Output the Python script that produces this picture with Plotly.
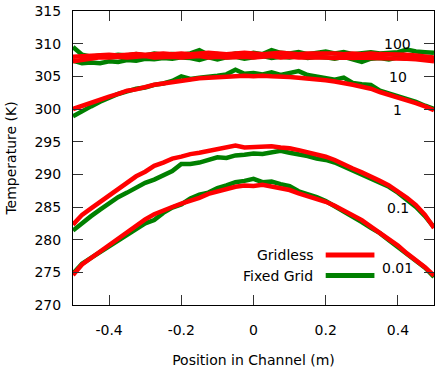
import plotly.graph_objects as go

x = [-0.5, -0.475, -0.45, -0.425, -0.4, -0.375, -0.35, -0.325, -0.3, -0.275, -0.25,
     -0.225, -0.2, -0.175, -0.15, -0.125, -0.1, -0.075, -0.05, -0.025, 0.0,
     0.025, 0.05, 0.075, 0.1, 0.125, 0.15, 0.175, 0.2, 0.225, 0.25,
     0.275, 0.3, 0.325, 0.35, 0.375, 0.4, 0.425, 0.45, 0.475, 0.5]

gridless_100 = [308.0, 308.1, 308.2, 308.2, 308.3, 308.2, 308.3, 308.4, 308.3, 308.4, 308.5,
                308.4, 308.5, 308.4, 308.5, 308.6, 308.5, 308.4, 308.5, 308.6, 308.5,
                308.4, 308.5, 308.6, 308.5, 308.4, 308.5, 308.5, 308.6, 308.5, 308.4,
                308.5, 308.4, 308.5, 308.4, 308.4, 308.3, 308.3, 308.2, 308.1, 307.9]
gridless_10 = [307.3, 307.5, 307.7, 307.9, 307.9, 308.0, 307.9, 308.0, 308.1, 307.9, 308.0,
               308.0, 307.9, 308.0, 308.1, 307.9, 308.0, 307.9, 308.0, 308.0, 307.9,
               308.0, 308.1, 307.9, 308.0, 307.9, 307.9, 308.0, 307.9, 307.8, 307.9,
               307.8, 307.9, 307.8, 307.8, 307.7, 307.8, 307.7, 307.6, 307.5, 307.3]
gridless_1 = [300.0, 300.5, 301.0, 301.5, 301.9, 302.3, 302.8, 303.0, 303.4, 303.7, 303.9,
              304.1, 304.4, 304.6, 304.7, 304.8, 304.9, 305.0, 305.0, 305.1, 305.0,
              305.1, 305.0, 305.0, 304.9, 304.8, 304.7, 304.6, 304.4, 304.2, 304.0,
              303.7, 303.4, 303.1, 302.6, 302.2, 301.8, 301.4, 300.9, 300.4, 299.8]
gridless_01 = [282.3, 283.8, 284.8, 285.8, 286.7, 287.8, 288.7, 289.7, 290.4, 291.3, 291.8,
               292.4, 292.7, 293.1, 293.3, 293.6, 293.9, 294.1, 294.4, 294.1, 294.2,
               294.3, 294.3, 294.1, 294.0, 293.7, 293.4, 293.0, 292.7, 292.2, 291.5,
               290.9, 290.3, 289.7, 289.0, 288.3, 287.4, 286.4, 285.3, 283.8, 281.8]
gridless_001 = [274.6, 276.2, 277.2, 278.2, 279.2, 280.1, 281.2, 282.2, 283.1, 283.9, 284.5,
                285.0, 285.5, 285.9, 286.4, 287.0, 287.4, 287.8, 288.1, 288.3, 288.2,
                288.4, 288.1, 287.9, 287.6, 287.1, 286.7, 286.3, 285.8, 285.2, 284.5,
                283.8, 283.0, 282.0, 281.1, 280.1, 279.1, 277.9, 276.9, 275.8, 274.5]

fixed_100 = [309.5, 308.3, 308.0, 308.2, 308.1, 308.3, 308.2, 308.4, 308.2, 308.5, 308.3,
             308.4, 308.3, 308.5, 309.0, 308.3, 308.4, 308.2, 308.5, 308.3, 308.6,
             308.4, 309.0, 308.6, 308.5, 308.7, 308.4, 308.6, 308.8, 308.5, 308.7,
             308.4, 308.6, 308.7, 308.5, 308.6, 308.7, 309.1, 308.8, 308.7, 308.6]
fixed_10 = [307.4, 307.0, 307.1, 307.0, 307.3, 307.2, 307.5, 307.4, 307.7, 307.6, 307.8,
            307.7, 307.9, 307.8, 307.5, 307.9, 307.6, 307.9, 308.0, 307.7, 307.9,
            308.1, 307.8, 308.0, 307.9, 308.1, 307.8, 308.0, 307.9, 307.7, 308.0,
            307.6, 307.2, 307.7, 307.8, 307.6, 307.9, 307.7, 307.8, 307.6, 307.5]
fixed_1 = [298.9, 299.7, 300.4, 301.1, 301.7, 302.3, 302.7, 303.1, 303.3, 303.7, 303.9,
           304.3, 305.0, 304.6, 304.8, 304.9, 305.1, 305.3, 306.0, 305.4, 305.5,
           305.3, 305.6, 305.2, 305.5, 305.8, 305.2, 305.0, 304.7, 304.5, 304.8,
           304.0, 303.8, 303.7, 302.8, 302.4, 302.0, 301.6, 301.1, 300.5, 300.0]
fixed_01 = [281.4, 282.6, 283.6, 284.6, 285.6, 286.5, 287.2, 287.9, 288.7, 289.2, 289.8,
            290.5, 291.6, 291.6, 291.8, 292.2, 292.6, 292.5, 292.9, 293.0, 293.2,
            293.1, 293.4, 293.6, 293.3, 293.1, 292.8, 292.4, 292.2, 291.8, 291.2,
            290.6, 290.0, 289.4, 288.8, 288.1, 287.2, 286.2, 285.0, 283.6, 281.9]
fixed_001 = [274.8, 276.3, 277.2, 278.1, 279.0, 279.9, 280.7, 281.5, 282.5, 283.0, 284.1,
             284.9, 285.4, 286.3, 286.9, 287.2, 287.9, 288.3, 288.8, 289.0, 289.3,
             288.8, 288.9, 288.5, 288.2, 287.4, 287.0, 286.5, 285.9, 285.1, 284.4,
             283.6, 282.7, 281.8, 281.0, 279.9, 278.9, 277.8, 276.7, 275.7, 274.3]

curve_labels = ["100", "10", "1", "0.1", "0.01"]
label_x = [0.4, 0.4, 0.4, 0.4, 0.4]
label_y = [309.9, 304.9, 299.8, 284.8, 275.6]

legend_names = ["Gridless", "Fixed Grid"]

RED = "#ff0000"
GREEN = "#008000"
FONT = "DejaVu Sans"

fig = go.Figure()
for ys in [fixed_100, fixed_10, fixed_1, fixed_01, fixed_001]:
    fig.add_trace(go.Scatter(x=x, y=ys, mode="lines", line=dict(color=GREEN, width=4.5),
                             showlegend=False, hoverinfo="skip"))
for ys in [gridless_100, gridless_10, gridless_1, gridless_01, gridless_001]:
    fig.add_trace(go.Scatter(x=x, y=ys, mode="lines", line=dict(color=RED, width=4.5),
                             showlegend=False, hoverinfo="skip"))

for t, lx, ly in zip(curve_labels, label_x, label_y):
    fig.add_annotation(x=lx, y=ly, text=t, showarrow=False, xanchor="center", yanchor="middle",
                       font=dict(family=FONT, size=14, color="black"))

# manual legend (text left, line sample right)
leg_y = [0.17, 0.10]
for name, col, ly in zip(legend_names, [RED, GREEN], leg_y):
    fig.add_annotation(xref="paper", yref="paper", x=0.67, y=ly, text=name, showarrow=False,
                       xanchor="right", yanchor="middle",
                       font=dict(family=FONT, size=14, color="black"))
    fig.add_shape(type="line", xref="paper", yref="paper", x0=0.70, x1=0.835, y0=ly, y1=ly,
                  line=dict(color=col, width=5))

axis_common = dict(showgrid=False, zeroline=False, showline=True, linecolor="black", linewidth=1,
                   mirror="ticks", ticks="inside", ticklen=10, tickcolor="#333333",
                   ticklabeloverflow="allow",
                   tickfont=dict(family=FONT, size=14, color="black"))

fig.update_xaxes(range=[-0.5, 0.5], tickvals=[-0.4, -0.2, 0, 0.2, 0.4],
                 ticktext=["-0.4", "-0.2", "0", "0.2", "0.4"], ticklabelstandoff=12,
                 title=dict(text="Position in Channel (m)", font=dict(family=FONT, size=14, color="black"),
                            standoff=18),
                 **axis_common)
fig.update_yaxes(range=[270, 315], tickvals=[270, 275, 280, 285, 290, 295, 300, 305, 310, 315],
                 ticklabelstandoff=8,
                 title=dict(text="Temperature (K)", font=dict(family=FONT, size=14, color="black"),
                            standoff=14),
                 **axis_common)

fig.update_layout(width=438, height=369, margin=dict(l=73, r=3, t=5, b=62),
                  paper_bgcolor="white", plot_bgcolor="white", showlegend=False,
                  font=dict(family=FONT, size=14, color="black"))

fig.write_html("out.html", config={"displayModeBar": False},
               post_script="document.body.style.margin='0';document.body.style.padding='0';")
